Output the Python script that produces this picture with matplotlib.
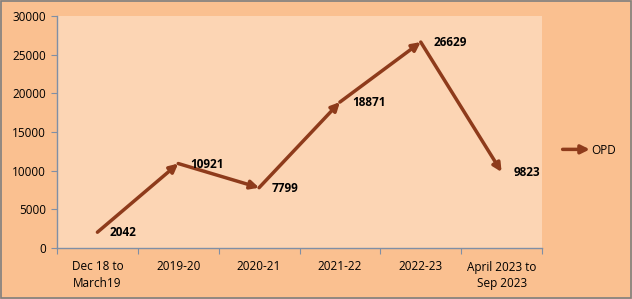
import matplotlib
matplotlib.use("Agg")
import matplotlib.pyplot as plt
from matplotlib.legend_handler import HandlerBase
from matplotlib.patches import FancyArrowPatch
from matplotlib.lines import Line2D

categories = ["Dec 18 to\nMarch19", "2019-20", "2020-21", "2021-22", "2022-23", "April 2023 to\nSep 2023"]
opd = [2042, 10921, 7799, 18871, 26629, 9823]
yticks = [0, 5000, 10000, 15000, 20000, 25000, 30000]

LINE = "#8E3B1B"
OUTER = "#FAC090"
INNER = "#FCD5B4"
AX = "#7F8FA6"

plt.rcParams['font.family'] = ['Open Sans', 'DejaVu Sans']

fig = plt.figure(figsize=(6.32, 2.99), dpi=100, facecolor=OUTER)
ax = fig.add_axes([57/632, 1-248/299, (542-57)/632, (248-16)/299])
ax.set_facecolor(INNER)

xs = list(range(len(categories)))
for i in range(len(xs) - 1):
    ax.annotate('', xy=(xs[i+1], opd[i+1]), xytext=(xs[i], opd[i]),
                arrowprops=dict(arrowstyle='-|>,head_length=0.5,head_width=0.25',
                                color=LINE, lw=2.5, shrinkA=0, shrinkB=0))

for x, y in zip(xs, opd):
    ax.annotate(str(y), (x, y), xytext=(9, -0.5), textcoords='offset points',
                fontsize=8.5, fontweight='bold', color='black', ha='left', va='center')

ax.set_xlim(-0.5, len(categories) - 0.5)
ax.set_ylim(0, 30000)
ax.set_yticks(yticks)
ax.set_yticklabels([str(v) for v in yticks])
ax.set_xticks([i - 0.5 for i in range(len(categories) + 1)])
ax.set_xticklabels([])
ax.set_xticks(xs, minor=True)
ax.set_xticklabels(categories, minor=True, linespacing=1.35)
ax.tick_params(axis='x', which='major', length=4, color=AX, direction='out')
ax.tick_params(axis='x', which='minor', length=0, labelsize=8.5, pad=9)
ax.tick_params(axis='y', length=4, color=AX, labelsize=8.5, pad=4)
for s in ['top', 'right']:
    ax.spines[s].set_visible(False)
for s in ['left', 'bottom']:
    ax.spines[s].set_color(AX)
    ax.spines[s].set_linewidth(1)


class ArrowHandler(HandlerBase):
    def create_artists(self, legend, orig_handle, xdescent, ydescent, width, height, fontsize, trans):
        y = height / 2 - ydescent
        p = FancyArrowPatch((-xdescent, y), (-xdescent + width, y),
                            arrowstyle='-|>,head_length=0.5,head_width=0.25',
                            color=LINE, lw=2.5, mutation_scale=10, transform=trans,
                            shrinkA=0, shrinkB=0)
        return [p]


h = Line2D([], [], color=LINE)
fig.legend([h], ["OPD"], handler_map={Line2D: ArrowHandler()},
           loc='center left', bbox_to_anchor=(552/632, 1-150/299), frameon=False,
           fontsize=8.5, handlelength=2.3, handletextpad=0.15)

border = plt.Rectangle((0.001, 0.002), 0.997, 0.995, transform=fig.transFigure,
                       fill=False, edgecolor='#7F7F7F', lw=1.2)
fig.patches.append(border)

fig.savefig("out.png", dpi=100, facecolor=OUTER)
